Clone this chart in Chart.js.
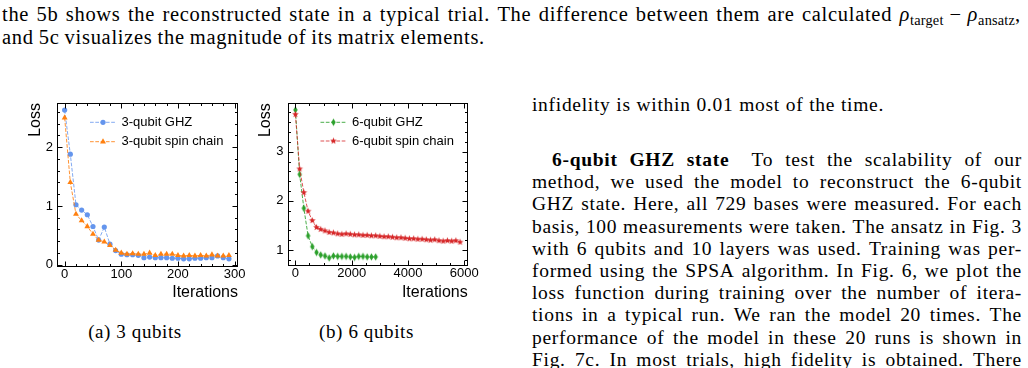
<!DOCTYPE html>
<html>
<head>
<meta charset="utf-8">
<script src="https://cdn.jsdelivr.net/npm/chart.js"></script>
<style>
  html, body { margin: 0; padding: 0; background: #fff; }
  body { width: 1028px; height: 368px; position: relative; overflow: hidden; }
  .line {
    position: absolute; display: flex; justify-content: space-between; align-items: baseline;
    white-space: nowrap; font-family: 'Liberation Serif', serif; font-size: 19.5px;
    line-height: 22px; height: 22px; letter-spacing: 0.7px; color: #000;
  }
  .cap { justify-content: center; letter-spacing: 0.6px; font-size: 19px; }
  .line sub { font-size: 70%; vertical-align: -0.3em; line-height: 0; letter-spacing: 0.2px; }
  canvas { position: absolute; }
</style>
</head>
<body>
<canvas id="chartA" width="250" height="225" style="left:0;top:90px"></canvas>
<canvas id="chartB" width="240" height="225" style="left:250px;top:90px"></canvas>
<script>
// ---- data ----
const itersA = [0, 10, 20, 30, 40, 50, 60, 70, 80, 90, 100, 110, 120, 130, 140,
  150, 160, 170, 180, 190, 200, 210, 220, 230, 240, 250, 260, 270, 280, 290]
const ghz3Loss = [2.63, 1.88, 1.02, 0.93, 0.85, 0.65, 0.42, 0.64, 0.35, 0.24, 0.18, 0.17, 0.17, 0.16, 0.12,
  0.13, 0.12, 0.12, 0.12, 0.11, 0.11, 0.10, 0.10, 0.11, 0.11, 0.12, 0.12, 0.15, 0.12, 0.10]
const spin3Loss = [2.50, 1.40, 0.86, 0.75, 0.65, 0.52, 0.42, 0.39, 0.33, 0.25, 0.20, 0.18, 0.19, 0.18, 0.18,
  0.20, 0.16, 0.18, 0.18, 0.18, 0.16, 0.15, 0.16, 0.15, 0.16, 0.15, 0.17, 0.15, 0.15, 0.16]

const itersB = [0, 150, 300, 450, 600, 750, 900, 1050, 1200, 1350, 1500, 1650, 1800, 1950,
  2100, 2250, 2400, 2550, 2700, 2850, 3000, 3150, 3300, 3450, 3600, 3750, 3900, 4050,
  4200, 4350, 4500, 4650, 4800, 4950, 5100, 5250, 5400, 5550, 5700, 5850]
const ghz6Loss = [3.85, 2.54, 1.85, 1.29, 1.07, 0.95, 0.90, 0.88, 0.84, 0.88,
  0.87, 0.87, 0.87, 0.86, 0.85, 0.87, 0.87, 0.86, 0.86, 0.86]
const spin6Loss = [3.76, 2.65, 2.17, 1.79, 1.60, 1.46, 1.42, 1.39, 1.36, 1.35,
  1.33, 1.32, 1.33, 1.32, 1.31, 1.31, 1.30, 1.30, 1.29, 1.29,
  1.28, 1.27, 1.27, 1.26, 1.25, 1.25, 1.24, 1.23, 1.23, 1.22,
  1.22, 1.21, 1.20, 1.21, 1.19, 1.18, 1.19, 1.18, 1.19, 1.16]

const xTicksA = [0, 100, 200, 300]
const yTicksA = [0, 1, 2]
const xTicksB = [0, 2000, 4000, 6000]
const yTicksB = [1, 2, 3]

// ---- page text ----
const topLines = [
  { text: 'the 5b shows the reconstructed state in a typical trial. The difference between them are calculated <i>ρ</i><sub>target</sub>\u00a0−\u00a0<i>ρ</i><sub>ansatz</sub>,', left: 2, y: 14, width: 1019, size: 20.5 },
  { text: 'and 5c visualizes the magnitude of its matrix elements.', left: 2, y: 37, width: 483, size: 20.5 }
]
const columnLines = [
  'infidelity is within 0.01 most of the time.',
  '<b>6-qubit</b> <b>GHZ</b> <b>state</b>&ensp; To test the scalability of our',
  'method, we used the model to reconstruct the 6-qubit',
  'GHZ state. Here, all 729 bases were measured. For each',
  'basis, 100 measurements were taken. The ansatz in Fig. 3',
  'with 6 qubits and 10 layers was used. Training was per-',
  'formed using the SPSA algorithm. In Fig. 6, we plot the',
  'loss function during training over the number of itera-',
  'tions in a typical run. We ran the model 20 times. The',
  'performance of the model in these 20 runs is shown in',
  'Fig. 7c. In most trials, high fidelity is obtained. There'
]
const columnY = [105, 160, 182.2, 204.4, 226.6, 248.8, 271, 293.2, 315.4, 337.6, 359.8]
const captions = [
  { text: '(a) 3 qubits', cx: 135, y: 331.7 },
  { text: '(b) 6 qubits', cx: 366.5, y: 331.7 }
]

function addLine(text, left, y, width, size) {
  const el = document.createElement('div')
  el.className = 'line'
  el.style.left = left + 'px'
  el.style.top = (y - 11) + 'px'
  el.style.width = width + 'px'
  if (size) el.style.fontSize = size + 'px'
  el.innerHTML = text.split(' ').filter(w => w).map(w => '<span>' + w + '</span>').join('')
  document.body.appendChild(el)
  return el
}

topLines.forEach(l => addLine(l.text, l.left, l.y, l.width, l.size))
columnLines.forEach((t, i) => {
  const indent = i === 1 ? 20 : 0
  addLine(t, 532 + indent, columnY[i], 490 - indent - (i === 0 ? 138 : 0))
})
captions.forEach(c => {
  const el = document.createElement('div')
  el.className = 'line cap'
  el.style.left = (c.cx - 80) + 'px'
  el.style.width = '160px'
  el.style.top = (c.y - 11) + 'px'
  el.textContent = c.text
  document.body.appendChild(el)
})

// ---- chart helpers ----
const FONT = "'Liberation Sans', Arial, Helvetica, sans-serif"

function starMarker(color, outer, inner) {
  const size = Math.ceil(outer * 2) + 2
  const c = document.createElement('canvas')
  c.width = c.height = size
  const g = c.getContext('2d')
  g.fillStyle = color
  g.beginPath()
  for (let k = 0; k < 10; k++) {
    const r = k % 2 ? inner : outer
    const a = -Math.PI / 2 + k * Math.PI / 5
    g.lineTo(size / 2 + r * Math.cos(a), size / 2 + r * Math.sin(a))
  }
  g.closePath()
  g.fill()
  return c
}

function thinDiamondMarker(color, w, h) {
  const c = document.createElement('canvas')
  c.width = Math.ceil(w) + 2
  c.height = Math.ceil(h) + 2
  const g = c.getContext('2d')
  const cx = c.width / 2
  const cy = c.height / 2
  g.fillStyle = color
  g.beginPath()
  g.moveTo(cx, cy - h / 2)
  g.lineTo(cx + w / 2, cy)
  g.lineTo(cx, cy + h / 2)
  g.lineTo(cx - w / 2, cy)
  g.closePath()
  g.fill()
  return c
}

function series(label, xs, ys, color, lineColor, pointStyle, radius, order) {
  return {
    label,
    data: ys.map((v, i) => ({ x: xs[i], y: v })),
    borderColor: lineColor,
    borderWidth: 1,
    borderDash: [3.7, 1.6],
    pointStyle,
    pointRadius: radius,
    pointBackgroundColor: color,
    pointBorderColor: color,
    pointBorderWidth: 0,
    tension: 0,
    order
  }
}

// frame + inward ticks on all four sides
const frameTicks = {
  id: 'frameTicks',
  afterDatasetsDraw(chart, args, opts) {
    const { ctx, chartArea: area, scales: { x, y } } = chart
    const L = Math.round(area.left) + 0.5
    const R = Math.round(area.right) - 0.5
    const T = Math.round(area.top) + 0.5
    const B = Math.round(area.bottom) - 0.5
    ctx.save()
    ctx.strokeStyle = '#000'
    ctx.lineWidth = 1
    ctx.strokeRect(L, T, R - L, B - T)

    const minors = (scale, step) => {
      const out = []
      for (let v = Math.ceil(scale.min / step) * step; v <= scale.max; v += step) out.push(v)
      return out
    }
    ctx.beginPath()
    const drawX = (vals, len) => vals.forEach(v => {
      const p = Math.round(x.getPixelForValue(v)) + 0.5
      if (p < L || p > R) return
      ctx.moveTo(p, B); ctx.lineTo(p, B - len)
      ctx.moveTo(p, T); ctx.lineTo(p, T + len)
    })
    const drawY = (vals, len) => vals.forEach(v => {
      const p = Math.round(y.getPixelForValue(v)) + 0.5
      if (p < T || p > B) return
      ctx.moveTo(L, p); ctx.lineTo(L + len, p)
      ctx.moveTo(R, p); ctx.lineTo(R - len, p)
    })
    drawX(minors(x, opts.xMinorStep), 2.5)
    drawY(minors(y, opts.yMinorStep), 2.5)
    drawX(opts.xMajor, 5)
    drawY(opts.yMajor, 5)
    ctx.stroke()
    ctx.restore()
  }
}

// legend drawn inside the plot area, upper part
const insideLegend = {
  id: 'insideLegend',
  afterDraw(chart, args, opts) {
    const { ctx, chartArea: area } = chart
    chart.data.datasets.forEach((ds, i) => {
      const y = area.top + opts.top + i * opts.rowGap
      const x0 = area.left + opts.left
      ctx.save()
      ctx.strokeStyle = ds.borderColor
      ctx.lineWidth = ds.borderWidth
      ctx.setLineDash(ds.borderDash)
      ctx.beginPath()
      ctx.moveTo(x0, y)
      ctx.lineTo(x0 + opts.lineLen, y)
      ctx.stroke()
      ctx.setLineDash([])
      ctx.fillStyle = ds.pointBackgroundColor
      ctx.strokeStyle = ds.pointBorderColor
      Chart.helpers.drawPoint(ctx, {
        pointStyle: ds.pointStyle, radius: ds.pointRadius, rotation: 0, borderWidth: ds.pointBorderWidth
      }, x0 + opts.lineLen / 2, y)
      ctx.fillStyle = '#000'
      ctx.font = opts.fontSize + 'px ' + FONT
      ctx.textBaseline = 'middle'
      ctx.textAlign = 'left'
      ctx.fillText(ds.label, x0 + opts.lineLen + opts.textGap, y)
      ctx.restore()
    })
  }
}

function lossOptions(s) {
  return {
    responsive: false,
    animation: false,
    events: [],
    layout: { padding: s.padding },
    plugins: {
      legend: { display: false },
      tooltip: { enabled: false },
      frameTicks: { xMajor: s.xTicks, yMajor: s.yTicks, xMinorStep: s.xMinorStep, yMinorStep: s.yMinorStep },
      insideLegend: { left: 33, top: s.legendTop, rowGap: s.legendGap, lineLen: 26, textGap: 5.5, fontSize: 13 }
    },
    scales: {
      x: {
        type: 'linear',
        min: s.xMin,
        max: s.xMax,
        afterBuildTicks: scale => { scale.ticks = s.xTicks.map(v => ({ value: v })) },
        afterFit: scale => { scale.height = s.xAxisHeight },
        grid: { display: false, drawTicks: false },
        border: { display: false },
        ticks: {
          padding: 0, color: '#000', maxRotation: 0, autoSkip: false,
          font: { family: FONT, size: 13 },
          callback: v => String(v)
        },
        title: {
          display: true, text: 'Iterations', align: 'end', color: '#000',
          font: { family: FONT, size: 16 }, padding: 0
        }
      },
      y: {
        type: 'linear',
        min: s.yMin,
        max: s.yMax,
        afterBuildTicks: scale => { scale.ticks = s.yTicks.map(v => ({ value: v })) },
        afterFit: scale => { scale.width = s.yAxisWidth },
        grid: { display: false, drawTicks: false },
        border: { display: false },
        ticks: {
          padding: 4, color: '#000', autoSkip: false,
          font: { family: FONT, size: 13 },
          callback: v => String(v)
        },
        title: {
          display: true, text: 'Loss', align: 'end', color: '#000',
          font: { family: FONT, size: 16 }, padding: { top: s.yTitlePad, bottom: 0 }
        }
      }
    }
  }
}

const blue = '#6495ed'
const orange = '#ff8010'
const green = '#2ca02c'
const red = '#d62728'

new Chart(document.getElementById('chartA'), {
  type: 'line',
  data: {
    datasets: [
      series('3-qubit GHZ', itersA, ghz3Loss, blue, 'rgba(100,149,237,0.8)', 'circle', 2.6, 1),
      series('3-qubit spin chain', itersA, spin3Loss, orange, 'rgba(255,128,16,0.85)', 'triangle', 3.4, 0)
    ]
  },
  options: lossOptions({
    padding: { left: 0, top: 13, right: 12, bottom: 13 },
    xMin: -13.5, xMax: 306, yMin: -0.03, yMax: 2.75,
    xTicks: xTicksA, yTicks: yTicksA, xMinorStep: 20, yMinorStep: 0.2,
    xAxisHeight: 35.5, yAxisWidth: 57, yTitlePad: 25.5,
    legendTop: 19.3, legendGap: 19.4
  }),
  plugins: [frameTicks, insideLegend]
})

new Chart(document.getElementById('chartB'), {
  type: 'line',
  data: {
    datasets: [
      series('6-qubit GHZ', itersB.slice(0, ghz6Loss.length), ghz6Loss, green, 'rgba(44,160,44,0.85)', thinDiamondMarker(green, 4.4, 7.4), 3, 1),
      series('6-qubit spin chain', itersB, spin6Loss, red, 'rgba(214,39,40,0.8)', starMarker(red, 3.5, 1.5), 3, 0)
    ]
  },
  options: lossOptions({
    padding: { left: 0, top: 13.3, right: 22.3, bottom: 13 },
    xMin: -281, xMax: 6121, yMin: 0.685, yMax: 3.985,
    xTicks: xTicksB, yTicks: yTicksB, xMinorStep: 500, yMinorStep: 0.2,
    xAxisHeight: 36.5, yAxisWidth: 37.5, yTitlePad: 5.8,
    legendTop: 19, legendGap: 18.7
  }),
  plugins: [frameTicks, insideLegend]
})
</script>
</body>
</html>
